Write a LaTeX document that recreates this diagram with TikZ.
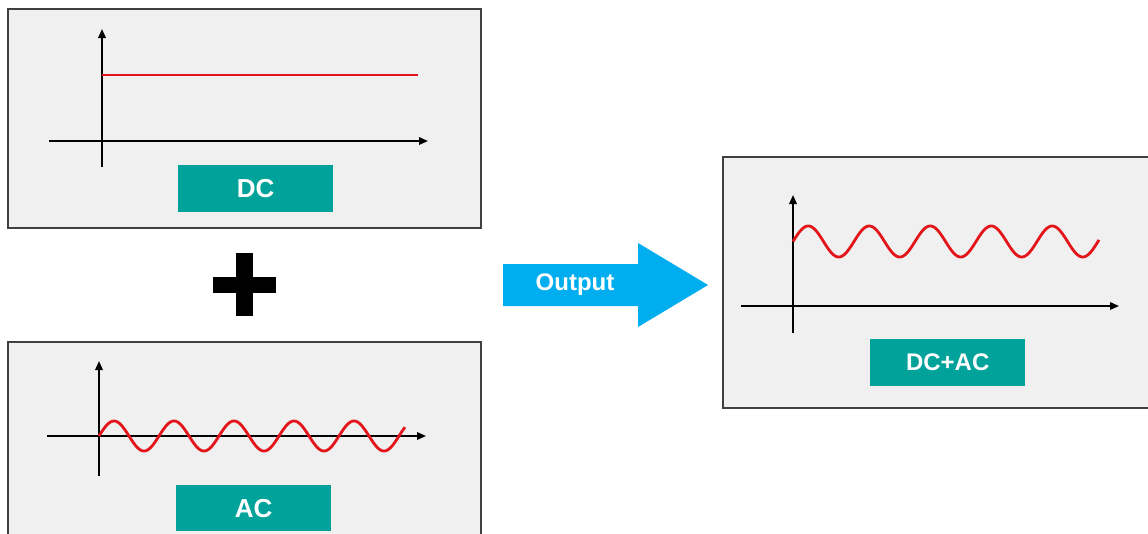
\documentclass[tikz,border=0pt]{standalone}
\usepackage{fontspec}
\setmainfont{Liberation Sans}
\usetikzlibrary{arrows.meta}
\definecolor{panelbg}{HTML}{F0F0F0}
\definecolor{panelbd}{HTML}{404040}
\definecolor{tealbox}{HTML}{00A29A}
\definecolor{sigred}{HTML}{E3151B}
\definecolor{arrowblue}{HTML}{00AEEF}
\tikzset{
  panel/.style={fill=panelbg, draw=panelbd, line width=1.1pt},
  axis/.style={line width=1.8pt, -{Triangle[length=9pt,width=7.5pt]}},
  signal/.style={draw=sigred, line width=2.8pt},
  tag/.style={fill=tealbox, text=white, font=\bfseries, inner sep=0pt, anchor=north west},
}
\begin{document}
\begin{tikzpicture}[x=1pt,y=-1pt]
\useasboundingbox[fill=white] (0,0) rectangle (1148,533);
% ---------- top panel: DC ----------
\draw[panel] (8,9) rectangle (481,228);
\draw[axis] (102,167) -- (102,29);
\draw[axis] (49,141) -- (428,141);
\draw[signal] (102,75) -- (418,75);
\node[tag, minimum width=155pt, minimum height=47pt, font=\bfseries\fontsize{26}{26}\selectfont] (dc) at (178,165) {DC};
% ---------- plus ----------
\fill (236,253) rectangle (253,316);
\fill (213,277) rectangle (276,293);
% ---------- bottom panel: AC ----------
\draw[panel] (8,342) rectangle (481,560);
\draw[axis] (99,476) -- (99,361);
\draw[axis] (47,436) -- (426,436);
\draw[signal] plot[domain=0:306, samples=300, smooth] ({99+\x}, {436-15*sin(6*\x)});
\node[tag, minimum width=155pt, minimum height=46pt, font=\bfseries\fontsize{26}{26}\selectfont] (ac) at (176,485) {AC};
% ---------- output arrow ----------
\fill[arrowblue] (503,264) -- (638,264) -- (638,243) -- (708,285) -- (638,327) -- (638,306) -- (503,306) -- cycle;
\node[text=white, font=\bfseries\fontsize{24}{24}\selectfont] (out) at (575,285) {Output};
% ---------- right panel: DC+AC ----------
\draw[panel] (723,157) rectangle (1170,408);
\draw[axis] (793,333) -- (793,195);
\draw[axis] (741,306) -- (1119,306);
\draw[signal] plot[domain=0:306, samples=300, smooth] ({793+\x}, {241.5-15.5*sin(5.9016*\x)});
\node[tag, minimum width=155pt, minimum height=47pt, font=\bfseries\fontsize{24}{24}\selectfont] (dcac) at (870,339) {DC+AC};
\end{tikzpicture}
\end{document}
